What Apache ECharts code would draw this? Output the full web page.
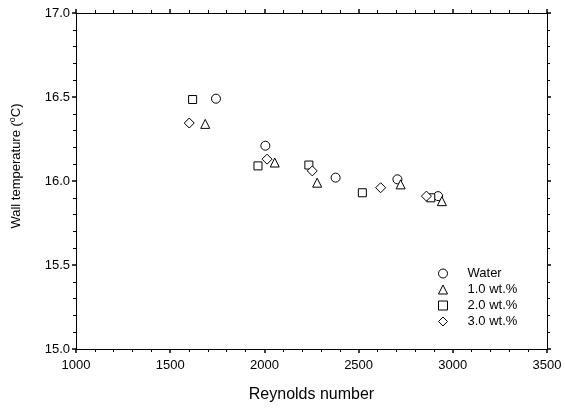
<!DOCTYPE html>
<html>
<head>
<meta charset="utf-8">
<script src="https://cdn.jsdelivr.net/npm/echarts@6/dist/echarts.min.js"></script>
<style>html,body{margin:0;padding:0;background:#fff}#c{width:565px;height:408px}</style>
</head>
<body>
<div id="c"></div>
<script>
var seriesNames = ['Water', '1.0 wt.%', '2.0 wt.%', '3.0 wt.%'];
var water = [[1743,16.49],[2005,16.21],[2378,16.02],[2706,16.01],[2922,15.91]];
var wt1 = [[1686,16.34],[2055,16.11],[2280,15.99],[2723,15.98],[2942,15.88]];
var wt2 = [[1619,16.485],[1966,16.09],[2236,16.095],[2520,15.93],[2883,15.90]];
var wt3 = [[1601,16.345],[2014,16.13],[2254,16.06],[2617,15.96],[2860,15.91]];
var xTicks = [1000,1500,2000,2500,3000,3500];
var yTicks = [15.0,15.5,16.0,16.5,17.0];

var font = 'Liberation Sans, Arial, sans-serif';
var symbols = ['circle','triangle','rect','diamond'];
var sizes = [9, 9, 8, 10];
var dataSets = [water, wt1, wt2, wt3];

var axisCommon = {
  axisLine:{show:true,onZero:false,lineStyle:{color:'#000',width:1}},
  axisTick:{show:true,inside:false,length:4,lineStyle:{color:'#000',width:1.5}},
  minorTick:{show:true,splitNumber:5,length:3,lineStyle:{color:'#000',width:1}},
  splitLine:{show:false}
};
function ax(extra){ return Object.assign({}, JSON.parse(JSON.stringify(axisCommon)), extra); }

var chart = echarts.init(document.getElementById('c'), null, {renderer:'canvas'});
chart.setOption({
  animation:false,
  backgroundColor:'#fff',
  grid:{left:76,right:18,top:13,bottom:57},
  legend:{
    orient:'vertical', left:433, top:262, itemWidth:9, itemHeight:9, itemGap:3,
    data:seriesNames,
    itemStyle:{borderWidth:1,borderColor:'#000',color:'#fff'},
    textStyle:{fontFamily:font,fontSize:13,color:'#000',padding:[0,0,0,15]}
  },
  xAxis:[
    ax({type:'value',position:'bottom',min:xTicks[0],max:xTicks[xTicks.length-1],interval:500,
      axisLabel:{color:'#000',fontFamily:font,fontSize:13,margin:10,formatter:function(v){return String(v);}},
      name:'Reynolds number',nameLocation:'middle',nameGap:38,
      nameTextStyle:{color:'#000',fontFamily:font,fontSize:16}}),
    ax({type:'value',position:'top',min:xTicks[0],max:xTicks[xTicks.length-1],interval:500,
      axisLabel:{show:false}})
  ],
  yAxis:[
    ax({type:'value',position:'left',min:yTicks[0],max:yTicks[yTicks.length-1],interval:0.5,
      axisLabel:{color:'#000',fontFamily:font,fontSize:13,margin:6,formatter:function(v){return v.toFixed(1);}},
      name:'Wall temperature ({sup|o}C)',nameLocation:'middle',nameGap:52,
      nameTextStyle:{color:'#000',fontFamily:font,fontSize:13,padding:[0,0,0,30],rich:{sup:{fontSize:9,verticalAlign:'bottom',padding:[0,0,7,0],fontFamily:font,color:'#000'}}}}),
    ax({type:'value',position:'right',min:yTicks[0],max:yTicks[yTicks.length-1],interval:0.5,
      axisLabel:{show:false}})
  ],
  series: seriesNames.map(function(n,i){
    return {
      name:n, type:'scatter', xAxisIndex:0, yAxisIndex:0,
      symbol:symbols[i], symbolSize:sizes[i],
      itemStyle:{color:'#fff',borderColor:'#000',borderWidth:1,opacity:1},
      data:dataSets[i]
    };
  })
});
</script>
</body>
</html>
